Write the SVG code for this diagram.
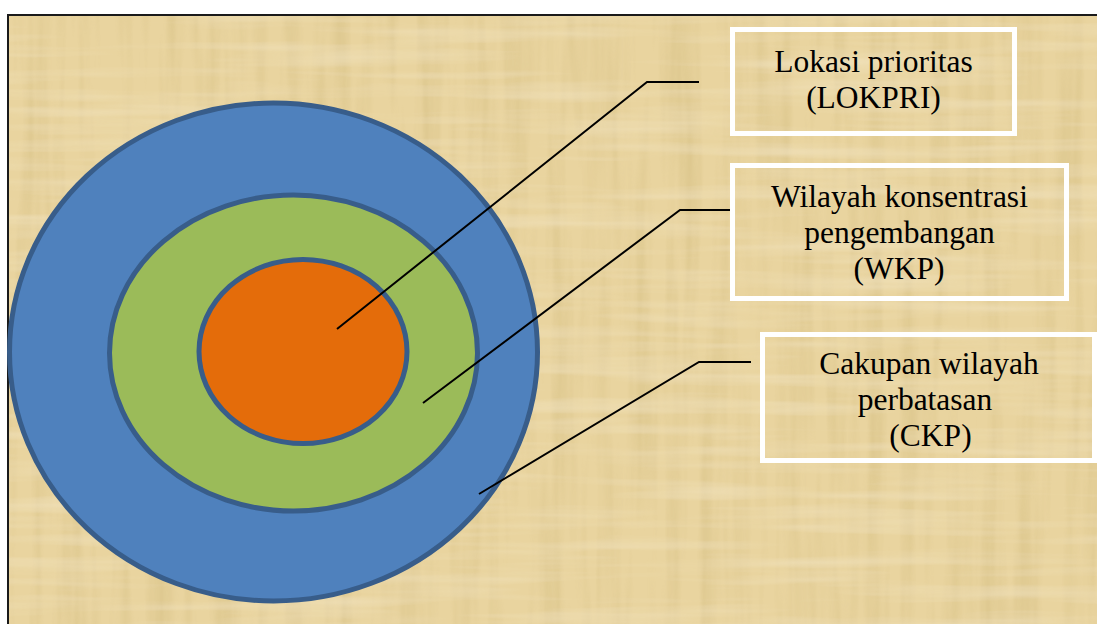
<svg xmlns="http://www.w3.org/2000/svg" width="1097" height="624" viewBox="0 0 1097 624">
  <defs>
    <filter id="paper" x="0" y="0" width="100%" height="100%">
      <feTurbulence type="fractalNoise" baseFrequency="0.06 0.004" numOctaves="3" seed="4" result="v"/>
      <feColorMatrix in="v" type="matrix" values="0 0 0 0 0.55  0 0 0 0 0.42  0 0 0 0 0.15  0 0 0 1.1 -0.45" result="vc"/>
      <feTurbulence type="fractalNoise" baseFrequency="0.004 0.07" numOctaves="3" seed="9" result="h"/>
      <feColorMatrix in="h" type="matrix" values="0 0 0 0 1  0 0 0 0 0.97  0 0 0 0 0.88  0 0 0 1.0 -0.45" result="hc"/>
      <feMerge><feMergeNode in="vc"/><feMergeNode in="hc"/></feMerge>
    </filter>
    <style>
      .ring { stroke: #385D8A; stroke-width: 5; }
      .box { fill: none; stroke: #FFFFFF; stroke-width: 5; }
      .lbl { font-family: 'Liberation Serif', 'DejaVu Serif', serif; font-size: 31.5px; fill: #000000; text-anchor: middle; }
      .conn { fill: none; stroke: #000000; stroke-width: 2; }
    </style>
  </defs>

  <rect x="0" y="0" width="1097" height="624" fill="#FFFFFF"/>
  <g id="background">
    <rect x="8" y="15" width="1089" height="609" fill="#E9D49F"/>
    <rect x="8" y="15" width="1089" height="609" filter="url(#paper)" opacity="0.55"/>
    <path d="M8,624 V15 H1097" fill="none" stroke="#1A1A1A" stroke-width="2"/>
  </g>

  <g id="ckp-ring">
    <ellipse class="ring" cx="273.5" cy="352" rx="264" ry="249" fill="#4F81BD"/>
  </g>
  <g id="wkp-ring">
    <ellipse class="ring" cx="293.5" cy="353" rx="184" ry="158" fill="#9BBB59"/>
  </g>
  <g id="lokpri-core">
    <ellipse class="ring" cx="303" cy="351.5" rx="104" ry="92" fill="#E46C0A"/>
  </g>

  <g id="connectors">
    <polyline class="conn" points="337,329 647,82 699,82"/>
    <polyline class="conn" points="423,403 680,210 730,210"/>
    <polyline class="conn" points="479,494 699,362 751,362"/>
  </g>

  <g id="label-lokpri">
    <rect class="box" x="732.5" y="29.5" width="282" height="104"/>
    <text class="lbl" x="873.5" y="71.5">Lokasi prioritas</text>
    <text class="lbl" x="873.5" y="107.5">(LOKPRI)</text>
  </g>
  <g id="label-wkp">
    <rect class="box" x="732.5" y="165.5" width="334" height="133"/>
    <text class="lbl" x="899.5" y="206.5">Wilayah konsentrasi</text>
    <text class="lbl" x="899.5" y="242.5">pengembangan</text>
    <text class="lbl" x="899" y="278.5">(WKP)</text>
  </g>
  <g id="label-ckp">
    <rect class="box" x="762.5" y="334.5" width="332" height="126"/>
    <text class="lbl" x="929" y="374">Cakupan wilayah</text>
    <text class="lbl" x="925" y="410">perbatasan</text>
    <text class="lbl" x="930.5" y="445.5">(CKP)</text>
  </g>
</svg>
